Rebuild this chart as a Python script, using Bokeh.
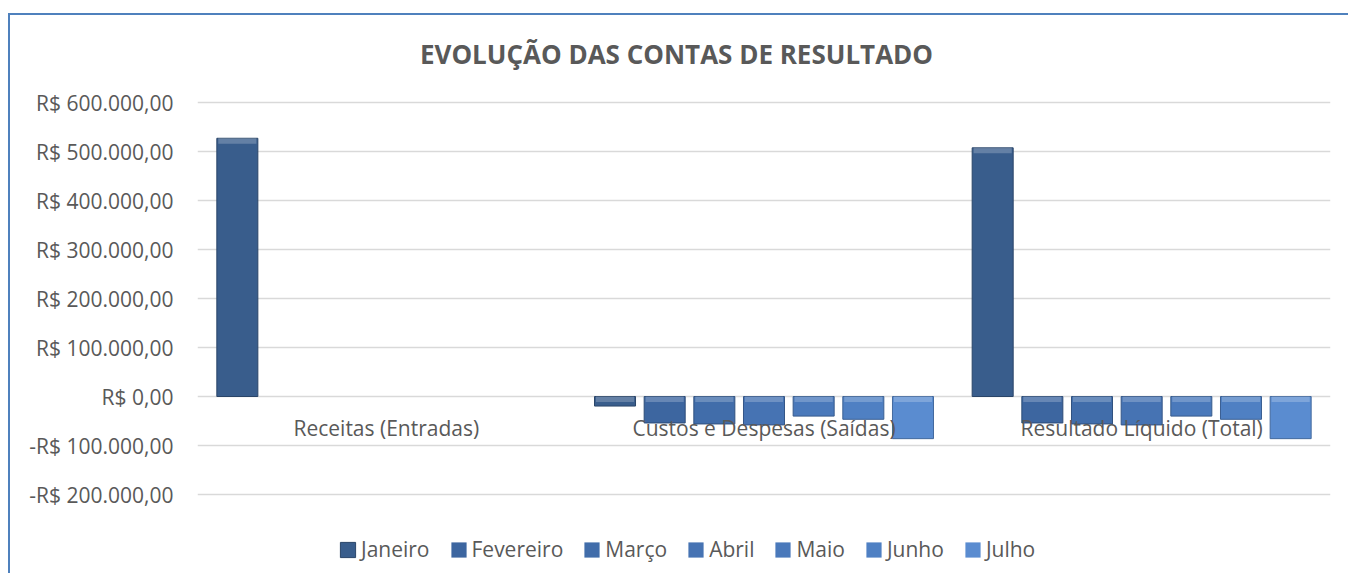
from bokeh.plotting import figure
from bokeh.models import ColumnDataSource, FixedTicker, Legend, LegendItem, Label
from bokeh.transform import dodge
from bokeh.core.properties import value
from bokeh.embed import file_html
from bokeh.resources import INLINE

# ---------------- data ----------------
categories = ["Receitas (Entradas)", "Custos e Despesas (Saídas)", "Resultado Líquido (Total)"]
months = ["Janeiro", "Fevereiro", "Março", "Abril", "Maio", "Junho", "Julho"]
janeiro = [527000, -19500, 507500]
fevereiro = [0, -54000, -54000]
marco = [0, -56000, -56000]
abril = [0, -58000, -58000]
maio = [0, -40000, -40000]
junho = [0, -46500, -46500]
julho = [0, -86000, -86000]
series = [janeiro, fevereiro, marco, abril, maio, junho, julho]
tick_values = [-200000, -100000, 0, 100000, 200000, 300000, 400000, 500000, 600000]
tick_labels = ["-R$ 200.000,00", "-R$ 100.000,00", "R$ 0,00", "R$ 100.000,00",
               "R$ 200.000,00", "R$ 300.000,00", "R$ 400.000,00", "R$ 500.000,00",
               "R$ 600.000,00"]
title_text = "EVOLUÇÃO DAS CONTAS DE RESULTADO"

# ---------------- style ----------------
colors = ["#395D8C", "#3D66A0", "#416DAA", "#4673B3", "#4A79BB", "#4F80C3", "#5A8CD0"]
edges = ["#2A4568", "#2D4C77", "#30517F", "#345687", "#375B8D", "#3B6093", "#43699E"]
FONT = "Open Sans"
GRAY = "#595959"
BEVEL = 11000  # height of the light bevel strip, in axis units (~5 px)

data = {"cat": categories}
keys = []
for i, s in enumerate(series):
    k = "m%d" % i
    keys.append(k)
    data[k] = s
    data[k + "_la"] = [1.0 if v != 0 else 0.0 for v in s]
    data[k + "_bt"] = [max(v, 0) if v != 0 else 0 for v in s]
    data[k + "_bb"] = [(max(v, 0) - BEVEL) if v != 0 else 0 for v in s]
src = ColumnDataSource(data)

# the frame spans the whole chart height; grid lines only at the fixed ticks
p = figure(x_range=categories, y_range=(-365300, 777550),
           width=1340, height=560, output_backend="svg", toolbar_location=None,
           x_axis_location=None, min_border_left=187, min_border_right=20,
           min_border_top=0, min_border_bottom=0)
p.styles = {"margin-top": "13px", "margin-left": "8px",
            "border-top": "2px solid #4F81BD", "border-left": "2px solid #4F81BD"}
p.outline_line_color = None
p.xgrid.grid_line_color = None
p.ygrid.grid_line_color = "#D9D9D9"
p.ygrid.grid_line_width = 1.5
p.ygrid.ticker = FixedTicker(ticks=tick_values)

ya = p.yaxis[0]
ya.ticker = FixedTicker(ticks=tick_values)
ya.major_label_overrides = {v: t for v, t in zip(tick_values, tick_labels)}
ya.axis_line_color = None
ya.major_tick_line_color = None
ya.minor_tick_line_color = None
ya.major_tick_out = 0
ya.major_tick_in = 0
ya.major_label_standoff = 24
ya.major_label_text_font = FONT
ya.major_label_text_font_size = "21px"
ya.major_label_text_color = GRAY

step = 0.1315
bw = 0.1086
items = []
for i, k in enumerate(keys):
    xd = dodge("cat", (i - 3) * step, range=p.x_range)
    r = p.vbar(x=xd, top=k, bottom=0, width=bw, source=src,
               fill_color=colors[i], line_color=edges[i], line_alpha=k + "_la",
               line_width=1)
    p.vbar(x=xd, top=k + "_bt", bottom=k + "_bb", width=bw * 0.93, source=src,
           fill_color="white", fill_alpha=0.22, line_color=None)
    items.append(LegendItem(label=months[i], renderers=[r]))

lsrc = ColumnDataSource({"cat": categories, "y": [-65000] * 3})
p.text(x="cat", y="y", text="cat", source=lsrc, text_align="center",
       text_baseline="middle", text_font=value(FONT), text_font_size="21px",
       text_color=GRAY)

leg = Legend(items=items, orientation="horizontal", location=(141, 12))
leg.padding = 0
leg.margin = 0
leg.spacing = 19
leg.glyph_width = 19
leg.glyph_height = 19
leg.label_standoff = 4
leg.label_text_font = FONT
leg.label_text_font_size = "21px"
leg.label_text_color = GRAY
leg.background_fill_alpha = 0
leg.border_line_color = None
p.add_layout(leg, "center")

title = Label(x=1.2683, y=698000, text=title_text, text_align="center",
              text_baseline="middle", text_font=FONT, text_font_size="26px",
              text_font_style="bold", text_color=GRAY)
p.add_layout(title)

open("out.html", "w").write(file_html(p, INLINE))
